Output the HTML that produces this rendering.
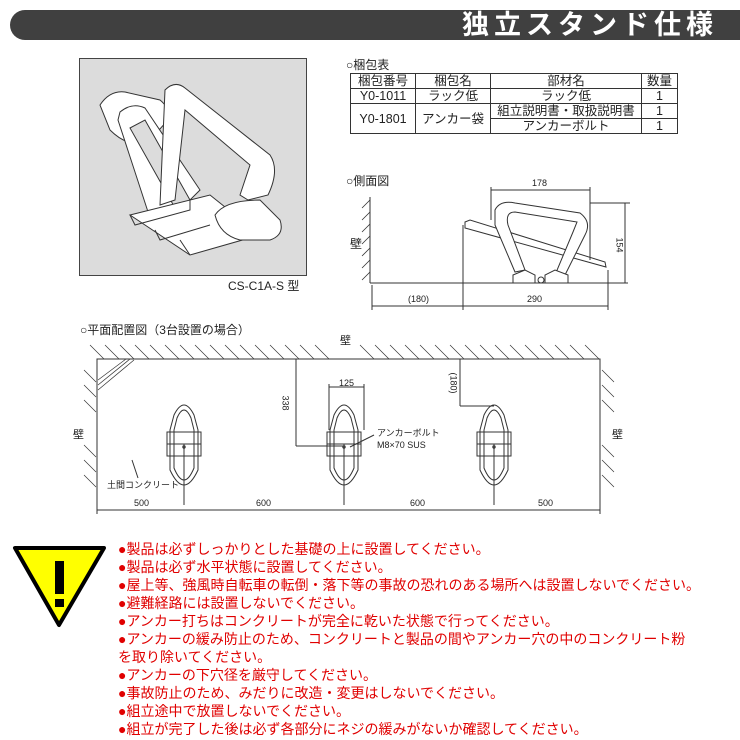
<!DOCTYPE html>
<html><head><meta charset="utf-8"><style>
body{margin:0;width:740px;height:740px;background:#fff;position:relative;overflow:hidden;font-family:"Liberation Sans","Noto Sans CJK JP",sans-serif}
.bar{position:absolute;left:10px;top:10px;width:740px;height:30px;background:#404040;border-radius:15px 0 0 15px}
.title{position:absolute;right:22px;top:8px;color:#fff;font-size:27px;font-weight:bold;letter-spacing:5px;line-height:34px}
.t{position:absolute;font-size:12px;color:#222;white-space:nowrap}
table{position:absolute;left:350px;top:73px;border-collapse:collapse;font-size:12.5px;color:#222}
td{border:1px solid #333;text-align:center;height:14px;padding:0;line-height:14px}
.warn{position:absolute;left:118px;top:540px;color:#e00000;font-size:14px;line-height:18px;white-space:nowrap}
</style></head><body>
<div class="bar"></div><div class="title">独立スタンド仕様</div>
<div style="position:absolute;left:79px;top:58px;width:226px;height:216px;background:#dcdcdc;border:1px solid #444"></div>
<svg style="position:absolute;left:0;top:0" width="740" height="740">
<g fill="none" stroke="#333" stroke-width="1">
<path d="M100 105 Q110 90 125 92 L160 100 Q172 110 168 120 L150 140 Q130 150 110 130 Z" fill="#fff"/>
<path d="M120 112 Q132 102 145 108 L200 190 L190 200 L150 218 L118 120Z" fill="#fff"/>
<path d="M130 128 L145 120 L190 200 L175 208Z" fill="#dcdcdc"/>
<path d="M165 90 Q175 80 185 88 L270 155 Q280 170 268 195 L248 200 L240 195 L250 165 L185 110 L175 200 L160 205Z" fill="#fff"/>
<path d="M130 215 L210 195 L260 235 L190 255 Z" fill="#fff"/>
<path d="M215 215 Q225 200 260 200 L280 220 Q285 235 270 240 L240 240 Q220 235 215 215Z" fill="#fff"/>
<path d="M130 215 L135 225 L190 210 L190 200 M155 230 L160 240 L210 225 M180 240 L190 255"/>
</g>
<g stroke="#333" fill="none" stroke-width="1">
<line x1="370" y1="197" x2="370" y2="283"/>
<g stroke-width="0.8"><path d="M370 200 l-8 8 M370 212 l-8 8 M370 224 l-8 8 M370 236 l-8 8 M370 248 l-8 8 M370 260 l-8 8 M370 272 l-8 8"/></g>
<line x1="370" y1="283" x2="628" y2="283"/>
<path d="M465 222 L470 220 L605 262 L606 267 L465 228Z" fill="#fff"/>
<path d="M495 210 Q500 200 515 203 L580 213 Q592 222 585 235 L565 275 L555 275 L573 232 L577 222 L515 212 Q505 212 508 225 L525 270 L515 272 L495 225Z" fill="#fff"/>
<path d="M513 283 L513 275 L525 270 L535 275 L535 283Z M545 283 L545 275 L555 270 L568 275 L568 283Z" fill="#fff"/>
<circle cx="541" cy="280" r="3"/>
<line x1="491" y1="190" x2="590" y2="190"/><line x1="491" y1="187" x2="491" y2="220"/><line x1="590" y1="187" x2="590" y2="260"/>
<line x1="590" y1="203" x2="630" y2="203"/>
<line x1="625" y1="203" x2="625" y2="283"/>
<line x1="372" y1="306" x2="608" y2="306"/>
<line x1="372" y1="285" x2="372" y2="310"/><line x1="463" y1="225" x2="463" y2="310"/><line x1="608" y1="270" x2="608" y2="310"/>
</g>
<g stroke="#333" fill="none" stroke-width="1">
<path d="M97 490 L97 359 L600 359 L600 490"/>
<g stroke-width="0.7">
<path d="M90 345 l14 14 M105 345 l14 14 M120 345 l14 14 M135 345 l14 14 M150 345 l14 14 M165 345 l14 14 M180 345 l14 14 M195 345 l14 14 M210 345 l14 14 M225 345 l14 14 M240 345 l14 14 M255 345 l14 14 M270 345 l14 14 M285 345 l14 14 M300 345 l14 14 M315 345 l14 14 M360 345 l14 14 M375 345 l14 14 M390 345 l14 14 M405 345 l14 14 M420 345 l14 14 M435 345 l14 14 M450 345 l14 14 M465 345 l14 14 M480 345 l14 14 M495 345 l14 14 M510 345 l14 14 M525 345 l14 14 M540 345 l14 14 M555 345 l14 14 M570 345 l14 14 M585 345 l14 14"/>
<path d="M84 370 l12 12 M84 385 l12 12 M84 400 l12 12 M84 445 l12 12 M84 460 l12 12 M84 475 l12 12 M602 370 l12 12 M602 385 l12 12 M602 400 l12 12 M602 445 l12 12 M602 460 l12 12 M602 475 l12 12"/>
<path d="M98 385 L130 359 M98 390 L134 360 M98 380 L126 359"/>
</g>
<g id="r"><path d="M174 415 Q184 395 194 415 L198 430 L198 470 Q184 500 170 470 L170 430Z M177 418 Q184 402 191 418 L194 430 L194 468 Q184 492 174 468 L174 430Z"/>
<rect x="167" y="432" width="34" height="24"/><line x1="167" y1="444" x2="201" y2="444"/><line x1="184" y1="444" x2="184" y2="505"/><circle cx="184" cy="447" r="1.2"/></g>
<use href="#r" x="160"/><use href="#r" x="310"/>
<line x1="296" y1="359" x2="296" y2="446"/><line x1="296" y1="446" x2="344" y2="446"/>
<line x1="329" y1="387" x2="364" y2="387"/><line x1="329" y1="384" x2="329" y2="430"/><line x1="364" y1="384" x2="364" y2="430"/>
<line x1="460" y1="359" x2="460" y2="406"/><line x1="460" y1="406" x2="494" y2="406"/>
<line x1="374" y1="435" x2="350" y2="447"/>
<line x1="132" y1="460" x2="138" y2="478"/>
<line x1="97" y1="510" x2="600" y2="510"/>
<line x1="97" y1="490" x2="97" y2="514"/><line x1="600" y1="490" x2="600" y2="514"/>
</g>
<polygon points="15,548 104,548 59,625" fill="#ffff00" stroke="#000" stroke-width="4" stroke-linejoin="round"/>
<rect x="55" y="561" width="9" height="33" fill="#000"/><rect x="55" y="599" width="9" height="8" fill="#000"/>
</svg>
<div class="t" style="left:228px;top:277px">CS-C1A-S 型</div>
<div class="t" style="left:346px;top:56px">○梱包表</div>
<table><tr><td style="width:64px">梱包番号</td><td style="width:74px">梱包名</td><td style="width:150px">部材名</td><td style="width:35px">数量</td></tr>
<tr><td>Y0-1011</td><td>ラック低</td><td>ラック低</td><td>1</td></tr>
<tr><td rowspan="2">Y0-1801</td><td rowspan="2">アンカー袋</td><td>組立説明書・取扱説明書</td><td>1</td></tr>
<tr><td>アンカーボルト</td><td>1</td></tr></table>
<div class="t" style="left:346px;top:172px">○側面図</div>
<div class="t" style="left:350px;top:235px">壁</div>
<div class="t" style="left:532px;top:178px;font-size:9px">178</div>
<div class="t" style="left:612px;top:240px;font-size:9px;transform:rotate(90deg)">154</div>
<div class="t" style="left:408px;top:294px;font-size:9px">(180)</div>
<div class="t" style="left:527px;top:294px;font-size:9px">290</div>
<div class="t" style="left:80px;top:321px">○平面配置図（3台設置の場合）</div>
<div class="t" style="left:340px;top:332px;font-size:11px">壁</div>
<div class="t" style="left:73px;top:426px;font-size:11px">壁</div>
<div class="t" style="left:612px;top:426px;font-size:11px">壁</div>
<div class="t" style="left:339px;top:378px;font-size:9px">125</div>
<div class="t" style="left:278px;top:398px;font-size:9px;transform:rotate(90deg)">338</div>
<div class="t" style="left:443px;top:378px;font-size:9px;transform:rotate(90deg)">(180)</div>
<div class="t" style="left:377px;top:426px;font-size:9px">アンカーボルト</div>
<div class="t" style="left:377px;top:440px;font-size:9px">M8×70 SUS</div>
<div class="t" style="left:107px;top:478px;font-size:9px">土間コンクリート</div>
<div class="t" style="left:134px;top:498px;font-size:9px">500</div>
<div class="t" style="left:256px;top:498px;font-size:9px">600</div>
<div class="t" style="left:410px;top:498px;font-size:9px">600</div>
<div class="t" style="left:538px;top:498px;font-size:9px">500</div>
<div class="warn">●製品は必ずしっかりとした基礎の上に設置してください。<br>●製品は必ず水平状態に設置してください。<br>●屋上等、強風時自転車の転倒・落下等の事故の恐れのある場所へは設置しないでください。<br>●避難経路には設置しないでください。<br>●アンカー打ちはコンクリートが完全に乾いた状態で行ってください。<br>●アンカーの緩み防止のため、コンクリートと製品の間やアンカー穴の中のコンクリート粉<br>を取り除いてください。<br>●アンカーの下穴径を厳守してください。<br>●事故防止のため、みだりに改造・変更はしないでください。<br>●組立途中で放置しないでください。<br>●組立が完了した後は必ず各部分にネジの緩みがないか確認してください。</div>
</body></html>
